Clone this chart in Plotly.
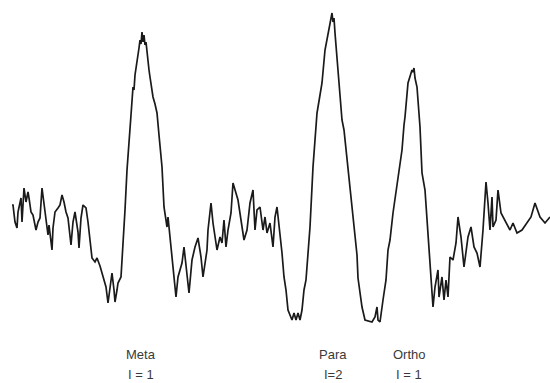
import plotly.graph_objects as go

# Recorder trace: chart position (left to right) and pen deflection (downward units)
position = [
    12, 13, 15, 17, 18, 21, 22, 24, 26, 28, 29, 31, 33, 36, 38, 40, 42, 44, 46, 48,
    49, 52, 53, 55, 58, 60, 62, 64, 66, 68, 71, 73, 75, 78, 79, 81, 83, 86, 88, 90,
    92, 95, 97, 100, 103, 106, 108, 110, 112, 114, 115, 117, 118, 121, 123, 125, 127, 130, 131, 133,
    134, 135, 137, 138, 139, 140, 141, 142, 143, 144, 145, 146, 147, 149, 150, 152, 153, 155, 157, 159,
    160, 162, 164, 166, 167, 168, 170, 173, 176, 178, 182, 184, 187, 189, 192, 195, 198, 201, 203, 207,
    208, 211, 213, 215, 217, 220, 222, 224, 226, 228, 231, 233, 236, 238, 241, 244, 247, 250, 253, 255,
    257, 260, 263, 265, 267, 270, 273, 275, 277, 279, 282, 284, 286, 288, 292, 294, 296, 298, 300, 302,
    304, 306, 310, 313, 317, 320, 322, 325, 328, 330, 331, 332, 333, 334, 335, 338, 340, 342, 344, 347,
    352, 357, 358, 362, 365, 372, 375, 377, 378, 380, 383, 386, 388, 390, 393, 397, 402, 404, 405, 408,
    410, 412, 413, 414, 415, 417, 420, 422, 425, 428, 430, 432, 433, 435, 438, 439, 442, 444, 446, 448,
    450, 453, 456, 458, 461, 464, 468, 471, 474, 477, 480, 483, 486, 488, 490, 492, 493, 496, 498, 501,
    505, 510, 513, 517, 522, 527, 531, 535, 540, 545, 550,
]
deflection = [
    205, 205, 222, 228, 212, 198, 222, 188, 202, 192, 198, 212, 215, 230, 222, 218, 188, 205, 222, 235,
    225, 250, 228, 212, 208, 205, 195, 202, 212, 218, 245, 222, 212, 232, 248, 218, 205, 208, 222, 238,
    258, 262, 258, 266, 277, 287, 303, 285, 273, 290, 302, 290, 283, 277, 247, 210, 170, 120, 115, 87,
    90, 75, 63, 55, 48, 40, 44, 32, 42, 35, 45, 42, 53, 70, 77, 90, 97, 104, 113, 135,
    147, 167, 207, 222, 227, 217, 237, 270, 297, 277, 263, 247, 273, 293, 260, 247, 238, 257, 277, 250,
    230, 203, 223, 237, 250, 237, 243, 220, 247, 230, 213, 183, 193, 200, 220, 240, 230, 203, 190, 230,
    210, 207, 230, 217, 233, 223, 247, 217, 207, 223, 253, 277, 290, 310, 320, 313, 320, 313, 320, 310,
    290, 280, 227, 167, 113, 95, 83, 50, 33, 24, 18, 13, 22, 18, 33, 73, 100, 120, 130, 160,
    207, 255, 278, 307, 320, 322, 317, 307, 320, 322, 300, 280, 250, 240, 213, 183, 150, 125, 117, 83,
    76, 70, 72, 68, 78, 87, 127, 173, 190, 237, 270, 297, 307, 287, 270, 297, 277, 300, 280, 297,
    257, 260, 243, 217, 237, 267, 237, 227, 247, 253, 267, 230, 182, 203, 230, 197, 227, 220, 190, 213,
    220, 230, 223, 233, 230, 223, 217, 203, 217, 223, 217,
]

# Peak assignments printed under the trace
peak_names = ["Meta", "Para", "Ortho"]
peak_spin = ["I = 1", "I=2", "I = 1"]
peak_label_pos = [141, 333, 409]

fig = go.Figure()
fig.add_trace(go.Scatter(
    x=position, y=deflection, mode="lines",
    line=dict(color="#1a1a1a", width=1.7),
    hoverinfo="skip", showlegend=False,
))

label_font = dict(family="Liberation Sans Narrow, Liberation Sans, sans-serif", size=13, color="#3a3a3a")
for name, spin, px in zip(peak_names, peak_spin, peak_label_pos):
    fig.add_annotation(x=px, y=354, xref="x", yref="y", text=name,
                       showarrow=False, font=label_font)
    fig.add_annotation(x=px, y=374, xref="x", yref="y", text=spin,
                       showarrow=False, font=label_font)

fig.update_xaxes(range=[0, 550], visible=False, fixedrange=True)
fig.update_yaxes(range=[383, 0], visible=False, fixedrange=True)
fig.update_layout(
    width=550, height=383,
    margin=dict(l=0, r=0, t=0, b=0),
    paper_bgcolor="white", plot_bgcolor="white",
)

fig.write_html("out.html")
